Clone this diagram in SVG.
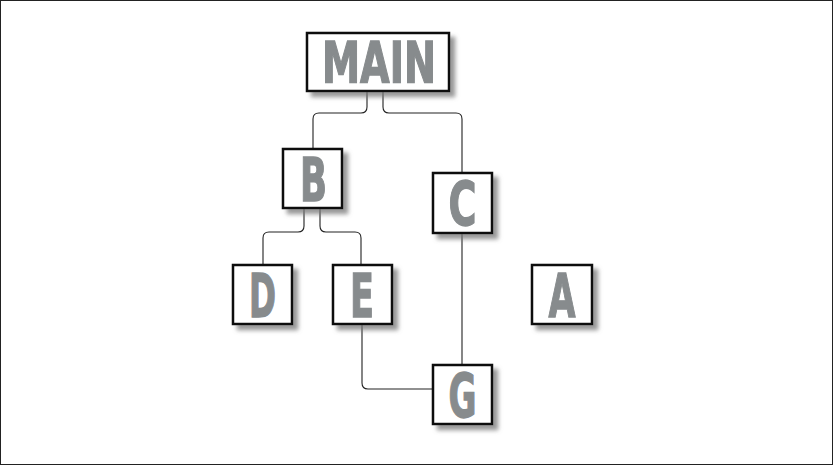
<svg xmlns="http://www.w3.org/2000/svg" width="833" height="465" viewBox="0 0 833 465">
<style>
.box{fill:#fff;stroke:#111;stroke-width:2.5}
.lbl{font-family:"DejaVu Sans Condensed","Liberation Sans",sans-serif;font-weight:bold;font-size:60px;fill:#878b8d;stroke:#878b8d;stroke-width:1.3;text-anchor:middle}
.con path{fill:none;stroke:#222;stroke-width:1.1}
</style>
<defs>
<filter id="sh" x="-20%" y="-20%" width="150%" height="150%">
<feDropShadow dx="5" dy="5" stdDeviation="2" flood-color="#777" flood-opacity="0.75"/>
</filter>
</defs>
<rect x="0.5" y="0.5" width="832" height="464" fill="#fff" stroke="#222" stroke-width="1"/>
<g class="con" id="connectors">
<path d="M367,91 V107 Q367,113 361,113 H319 Q313,113 313,119 V149"/>
<path d="M383,91 V107 Q383,113 389,113 H456 Q462,113 462,119 V173"/>
<path d="M304,208 V226 Q304,232 298,232 H269 Q263,232 263,238 V265"/>
<path d="M320,208 V226 Q320,232 326,232 H355 Q361,232 361,238 V265"/>
<path d="M462,233 V365"/>
<path d="M362,324 V383 Q362,389 368,389 H433"/>
</g>
<g id="MAIN"><rect class="box" filter="url(#sh)" x="307" y="33" width="142" height="58"/><text class="lbl" x="379" y="83" style="font-size:57px" textLength="114" lengthAdjust="spacingAndGlyphs">MAIN</text></g>
<g id="B"><rect class="box" filter="url(#sh)" x="283" y="149" width="59" height="59"/><text class="lbl" x="313.5" y="201" textLength="27" lengthAdjust="spacingAndGlyphs">B</text></g>
<g id="C"><rect class="box" filter="url(#sh)" x="433" y="173" width="59" height="60"/><text class="lbl" x="462.5" y="225" textLength="28" lengthAdjust="spacingAndGlyphs">C</text></g>
<g id="D"><rect class="box" filter="url(#sh)" x="233" y="265" width="59" height="59"/><text class="lbl" x="262.5" y="317" textLength="27" lengthAdjust="spacingAndGlyphs">D</text></g>
<g id="E"><rect class="box" filter="url(#sh)" x="333" y="265" width="59" height="59"/><text class="lbl" x="362" y="317" textLength="24" lengthAdjust="spacingAndGlyphs">E</text></g>
<g id="A"><rect class="box" filter="url(#sh)" x="532" y="265" width="60" height="59"/><text class="lbl" x="562" y="317" textLength="27" lengthAdjust="spacingAndGlyphs">A</text></g>
<g id="G"><rect class="box" filter="url(#sh)" x="433" y="365" width="59" height="59"/><text class="lbl" x="462.5" y="417" textLength="28" lengthAdjust="spacingAndGlyphs">G</text></g>
</svg>
